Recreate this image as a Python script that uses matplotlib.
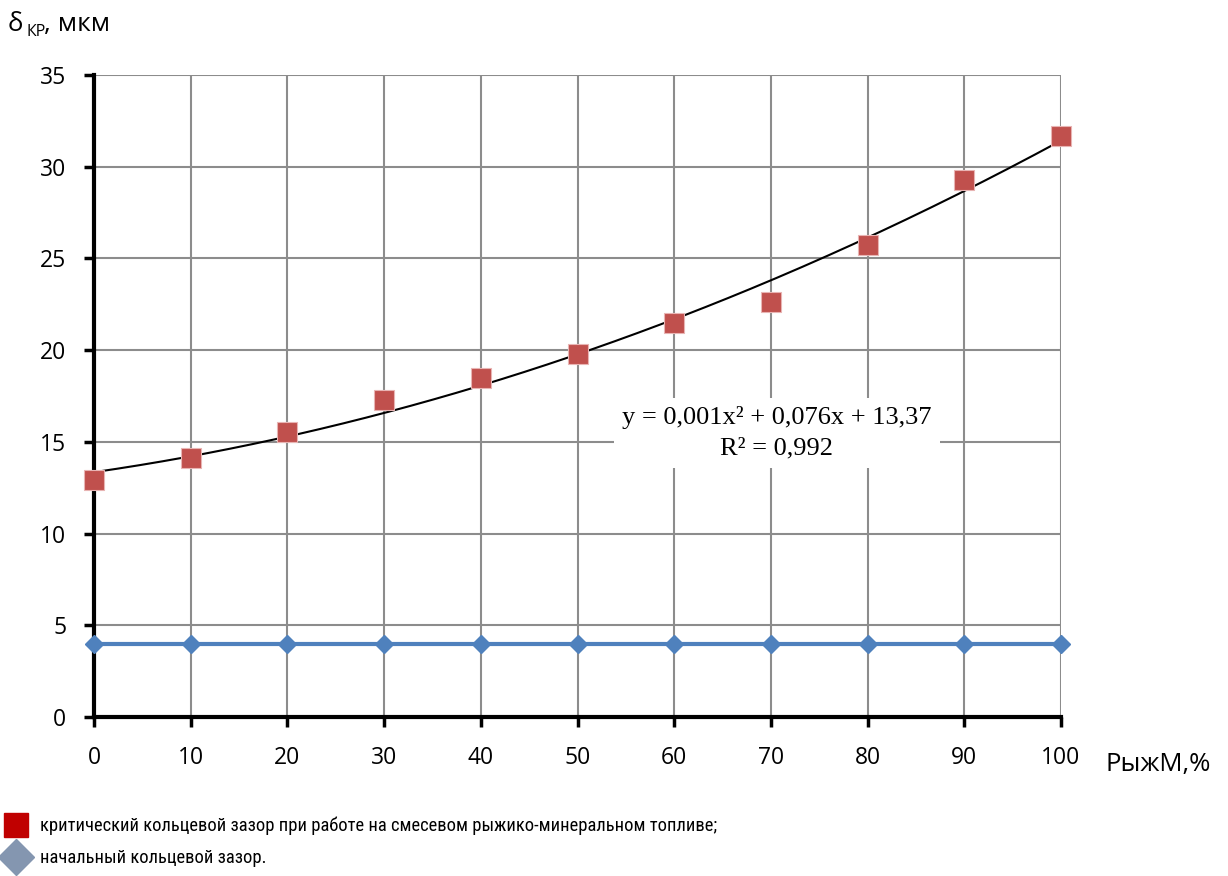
import numpy as np
import matplotlib
matplotlib.use("Agg")
import matplotlib.pyplot as plt
from matplotlib.lines import Line2D

x_vals = [0, 10, 20, 30, 40, 50, 60, 70, 80, 90, 100]
crit_gap = [12.9, 14.1, 15.55, 17.3, 18.5, 19.8, 21.5, 22.65, 25.75, 29.3, 31.65]
init_gap = [4, 4, 4, 4, 4, 4, 4, 4, 4, 4, 4]
x_ticks = [0, 10, 20, 30, 40, 50, 60, 70, 80, 90, 100]
y_ticks = [0, 5, 10, 15, 20, 25, 30, 35]
eq_text = "y = 0,001x² + 0,076x + 13,37\nR² = 0,992"
legend_labels = ["критический кольцевой зазор при работе на смесевом рыжико-минеральном топливе;",
                 "начальный кольцевой зазор."]

W, H = 1228, 876
fig = plt.figure(figsize=(W / 100, H / 100), dpi=100)
ax = fig.add_axes([94 / W, 1 - 717 / H, (1061 - 94) / W, (717 - 75) / H])

ax.set_xlim(0, 100)
ax.set_ylim(0, 35)
ax.set_xticks(x_ticks)
ax.set_yticks(y_ticks)
ax.grid(True, color="#8c8c8c", linewidth=1.5)
ax.set_axisbelow(True)
for s in ["top", "right"]:
    ax.spines[s].set_visible(False)
for s in ["left", "bottom"]:
    ax.spines[s].set_linewidth(3)
    ax.spines[s].set_color("black")
ax.tick_params(direction="out", length=7, width=2.5, colors="black", labelsize=16.5)
ax.tick_params(axis="x", pad=14)
ax.tick_params(axis="y", pad=13)
for lab in ax.get_xticklabels() + ax.get_yticklabels():
    lab.set_fontfamily(["Open Sans", "DejaVu Sans"])

# trend line (quadratic fit of data)
coef = np.polyfit(x_vals, crit_gap, 2)
xf = np.linspace(0, 100, 300)
ax.plot(xf, np.polyval(coef, xf), color="black", linewidth=1.5, zorder=3, clip_on=False)

ax.plot(x_vals, init_gap, color="#4f81bd", linewidth=3, marker="D", markersize=9,
        markerfacecolor="#4f81bd", markeredgecolor="#4f81bd", zorder=4, clip_on=False)
ax.plot(x_vals, crit_gap, linestyle="none", marker="s", markersize=14,
        markerfacecolor="#c0504d", markeredgecolor="#e8b4b3", markeredgewidth=0.8,
        zorder=5, clip_on=False)

fig.text(777 / W, 1 - 433 / H, eq_text, ha="center", va="center",
         fontsize=19, family=["Liberation Serif", "DejaVu Serif"], linespacing=1.5,
         bbox=dict(facecolor="white", edgecolor="none", pad=6), zorder=6)

# y-axis label
fig.text(8 / W, 1 - 31 / H, "δ", fontsize=18.5, family=["Open Sans", "DejaVu Sans"], ha="left", va="baseline")
fig.text(27 / W, 1 - 36 / H, "КР", fontsize=11.5, family=["Open Sans", "DejaVu Sans"], ha="left", va="baseline")
fig.text(44 / W, 1 - 31 / H, ", мкм", fontsize=19, family=["Open Sans", "DejaVu Sans"], ha="left", va="baseline")

# x-axis label
fig.text(1106 / W, 1 - 771 / H, "РыжМ,%", fontsize=18.5, family=["Open Sans", "DejaVu Sans"], ha="left", va="baseline")

# legend
leg_handles = [
    Line2D([0], [0], linestyle="none", marker="s", markersize=17, markerfacecolor="#c00000", markeredgecolor="#c00000"),
    Line2D([0], [0], linestyle="none", marker="D", markersize=18, markerfacecolor="#8496b0", markeredgecolor="#8496b0"),
]
leg = fig.legend(leg_handles, legend_labels, loc="upper left", bbox_to_anchor=(1 / W, 1 - 815 / H),
                 frameon=False, handlelength=1.45, handletextpad=0.55, labelspacing=0.75,
                 borderaxespad=0, borderpad=0.1,
                 prop={"family": ["Liberation Sans Narrow", "Roboto Condensed", "Open Sans Condensed", "DejaVu Sans"],
                       "stretch": "condensed", "size": 13.3})

fig.savefig("out.png", dpi=100)
